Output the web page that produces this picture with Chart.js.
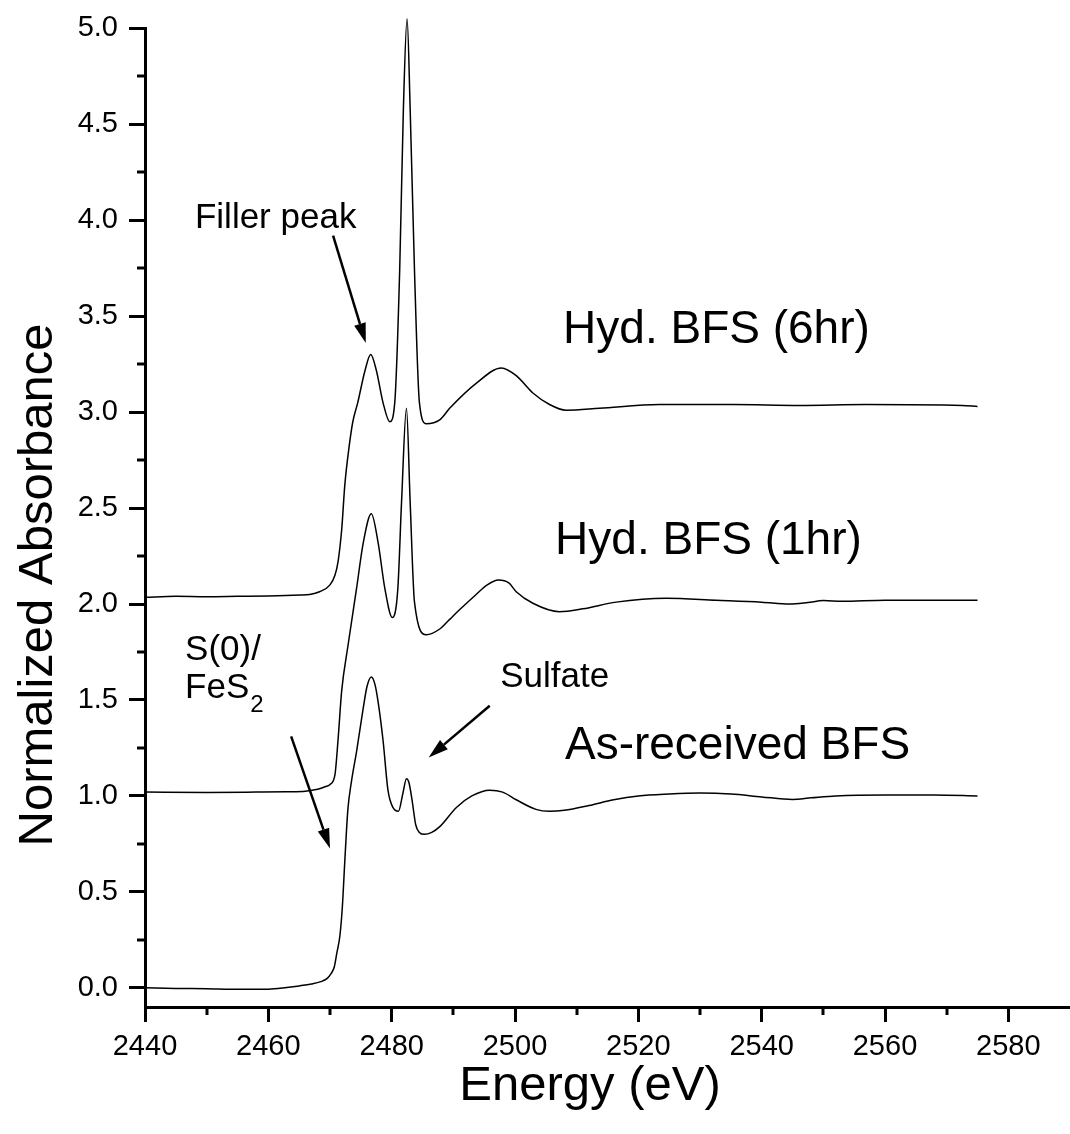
<!DOCTYPE html>
<html>
<head>
<meta charset="utf-8">
<script src="https://cdn.jsdelivr.net/npm/chart.js@4.4.0/dist/chart.umd.min.js"></script>
<style>
  html, body { margin: 0; padding: 0; background: #fff; }
  canvas { display: block; }
</style>
</head>
<body>
<canvas id="xanes" width="1070" height="1134"></canvas>
<script>
/* ------------------------------------------------------------
   Data (S K-edge XANES, normalized)
------------------------------------------------------------ */
const asReceivedEnergy = [2440, 2445, 2450, 2455, 2460, 2463, 2465, 2467, 2468.5, 2469.5, 2470.2, 2470.7, 2471.1, 2471.6, 2472.0, 2472.4, 2472.9, 2473.5, 2474.3, 2475.4, 2476.0, 2476.7, 2477.3, 2477.8, 2478.6, 2479.4, 2480.2, 2481.1, 2481.8, 2482.4, 2482.8, 2483.3, 2483.9, 2484.5, 2485.3, 2486.5, 2487.8, 2490.5, 2493, 2495.9, 2498, 2500.2, 2503.4, 2505.6, 2508, 2512, 2516, 2520, 2525, 2530, 2535, 2540, 2545, 2548, 2552, 2560, 2568, 2575];
const asReceivedAbs = [0.000, -0.003, -0.005, -0.008, -0.007, 0.002, 0.010, 0.020, 0.032, 0.048, 0.075, 0.11, 0.18, 0.27, 0.42, 0.66, 0.93, 1.08, 1.23, 1.46, 1.57, 1.62, 1.58, 1.49, 1.29, 1.03, 0.94, 0.92, 1.01, 1.09, 1.07, 0.98, 0.85, 0.81, 0.80, 0.81, 0.84, 0.94, 1.00, 1.03, 1.02, 0.98, 0.93, 0.92, 0.925, 0.95, 0.98, 1.00, 1.01, 1.015, 1.01, 0.995, 0.982, 0.99, 1.00, 1.005, 1.005, 1.00];

const hyd1Energy = [2440, 2450, 2458, 2463, 2466, 2468, 2469.2, 2470.0, 2470.8, 2471.3, 2471.9, 2472.9, 2474.3, 2475.4, 2476.7, 2477.8, 2478.9, 2480.1, 2481.0, 2481.6, 2482.4, 2483.0, 2483.7, 2485.6, 2487.8, 2489.4, 2491.0, 2493.7, 2495.5, 2497.3, 2499, 2500.2, 2502.9, 2507.2, 2511.0, 2516.4, 2524.5, 2532.6, 2540, 2544.5, 2547.5, 2550, 2553, 2560, 2572.5, 2575];
const hyd1Abs = [1.020, 1.018, 1.020, 1.022, 1.025, 1.035, 1.048, 1.06, 1.11, 1.29, 1.55, 1.78, 2.08, 2.32, 2.47, 2.32, 2.08, 1.93, 2.08, 2.53, 3.02, 2.53, 2.01, 1.84, 1.87, 1.92, 1.97, 2.05, 2.10, 2.125, 2.11, 2.064, 2.004, 1.96, 1.975, 2.01, 2.03, 2.02, 2.01, 2.00, 2.008, 2.018, 2.014, 2.02, 2.02, 2.02];

const hyd6Energy = [2440, 2445, 2450, 2455, 2460, 2465.1, 2466.7, 2468.3, 2470.0, 2470.8, 2471.3, 2471.9, 2472.4, 2473.1, 2473.7, 2474.5, 2475.7, 2476.6, 2477.5, 2478.6, 2479.7, 2480.5, 2481.3, 2481.9, 2482.5, 2483.0, 2483.7, 2484.5, 2485.6, 2487.8, 2489.4, 2493.7, 2497.8, 2500.2, 2502.9, 2505.6, 2508.3, 2513.7, 2523.4, 2535.3, 2546.1, 2556.9, 2572.5, 2575];
const hyd6Abs = [2.035, 2.040, 2.038, 2.040, 2.042, 2.047, 2.050, 2.064, 2.10, 2.15, 2.22, 2.39, 2.62, 2.82, 2.95, 3.05, 3.22, 3.30, 3.22, 3.05, 2.95, 3.05, 3.74, 4.58, 5.05, 4.58, 3.74, 3.05, 2.94, 2.96, 3.02, 3.15, 3.23, 3.19, 3.10, 3.04, 3.01, 3.02, 3.04, 3.04, 3.035, 3.04, 3.035, 3.03];

/* axis ticks */
const xMajorTicks = [2440, 2460, 2480, 2500, 2520, 2540, 2560, 2580];
const xMinorTicks = [2450, 2470, 2490, 2510, 2530, 2550, 2570];
const yMajorTicks = [0.0, 0.5, 1.0, 1.5, 2.0, 2.5, 3.0, 3.5, 4.0, 4.5, 5.0];
const yMinorTicks = [0.25, 0.75, 1.25, 1.75, 2.25, 2.75, 3.25, 3.75, 4.25, 4.75];

/* text labels and arrows (in data units) */
const curveLabels = [
    { text: "Hyd. BFS (6hr)", x: 2507.8, y: 3.36, size: 46 },
    { text: "Hyd. BFS (1hr)", x: 2506.5, y: 2.26, size: 46 },
    { text: "As-received BFS", x: 2508.1, y: 1.19, size: 46 },
    { text: "Filler peak", x: 2448.1, y: 3.96, size: 35 },
    { text: "Sulfate", x: 2497.6, y: 1.57, size: 35 },
    { text: "S(0)/", x: 2446.5, y: 1.71, size: 35 }
];
const arrows = [
    { from: [2470.5, 3.92], to: [2475.8, 3.36] },
    { from: [2495.9, 1.47], to: [2486.0, 1.20] },
    { from: [2463.7, 1.31], to: [2470.0, 0.726] }
];

const FONT = "'Liberation Sans', Arial, sans-serif";

function toPoints(xs, ys) {
    return xs.map((x, i) => ({ x: x, y: ys[i] }));
}

/* ------------------------------------------------------------
   Plugin : minor ticks, labels, arrows, axis titles
------------------------------------------------------------ */
const decorPlugin = {
    id: "decor",
    afterDatasetsDraw(chart) {
        const ctx = chart.ctx;
        const xs = chart.scales.x;
        const ys = chart.scales.y;
        const area = chart.chartArea;

        ctx.save();
        ctx.strokeStyle = "#000";
        ctx.fillStyle = "#000";

        // minor ticks
        ctx.lineWidth = 3;
        xMinorTicks.forEach(v => {
            const px = Math.round(xs.getPixelForValue(v));
            ctx.beginPath();
            ctx.moveTo(px, area.bottom);
            ctx.lineTo(px, area.bottom + 8);
            ctx.stroke();
        });
        yMinorTicks.forEach(v => {
            const py = Math.round(ys.getPixelForValue(v));
            ctx.beginPath();
            ctx.moveTo(area.left - 8, py);
            ctx.lineTo(area.left, py);
            ctx.stroke();
        });

        // labels
        ctx.textAlign = "left";
        ctx.textBaseline = "alphabetic";
        curveLabels.forEach(l => {
            ctx.font = l.size + "px " + FONT;
            ctx.fillText(l.text, xs.getPixelForValue(l.x), ys.getPixelForValue(l.y));
        });
        // FeS2 with subscript
        const fx = xs.getPixelForValue(2446.5);
        const fy = ys.getPixelForValue(1.51);
        ctx.font = "35px " + FONT;
        ctx.fillText("FeS", fx, fy);
        const w = ctx.measureText("FeS").width;
        ctx.font = "24px " + FONT;
        ctx.fillText("2", fx + w + 1, fy + 14);

        // arrows
        ctx.lineWidth = 2.5;
        arrows.forEach(a => {
            const x1 = xs.getPixelForValue(a.from[0]), y1 = ys.getPixelForValue(a.from[1]);
            const x2 = xs.getPixelForValue(a.to[0]), y2 = ys.getPixelForValue(a.to[1]);
            const ang = Math.atan2(y2 - y1, x2 - x1);
            const hl = 20, hw = 6;
            const bx = x2 - hl * Math.cos(ang), by = y2 - hl * Math.sin(ang);
            ctx.beginPath();
            ctx.moveTo(x1, y1);
            ctx.lineTo(bx, by);
            ctx.stroke();
            ctx.beginPath();
            ctx.moveTo(x2, y2);
            ctx.lineTo(bx + hw * Math.sin(ang), by - hw * Math.cos(ang));
            ctx.lineTo(bx - hw * Math.sin(ang), by + hw * Math.cos(ang));
            ctx.closePath();
            ctx.fill();
        });

        // axis titles
        ctx.font = "49px " + FONT;
        ctx.textAlign = "center";
        ctx.fillText("Energy (eV)", 590, 1100);
        ctx.translate(52, 585);
        ctx.rotate(-Math.PI / 2);
        ctx.fillText("Normalized Absorbance", 0, 0);

        ctx.restore();
    }
};

/* ------------------------------------------------------------
   Chart
------------------------------------------------------------ */
const lineStyle = {
    borderColor: "#000",
    borderWidth: 1.5,
    pointRadius: 0,
    fill: false,
    cubicInterpolationMode: "monotone",
    clip: false
};

const tickFont = { family: FONT, size: 29 };

new Chart(document.getElementById("xanes"), {
    type: "line",
    data: {
        datasets: [
            Object.assign({ label: "As-received BFS", data: toPoints(asReceivedEnergy, asReceivedAbs) }, lineStyle),
            Object.assign({ label: "Hyd. BFS (1hr)", data: toPoints(hyd1Energy, hyd1Abs) }, lineStyle),
            Object.assign({ label: "Hyd. BFS (6hr)", data: toPoints(hyd6Energy, hyd6Abs) }, lineStyle)
        ]
    },
    options: {
        responsive: false,
        animation: false,
        devicePixelRatio: 1,
        layout: { padding: { top: 24, left: 0, right: 0, bottom: 0 } },
        plugins: {
            legend: { display: false },
            tooltip: { enabled: false }
        },
        scales: {
            x: {
                type: "linear",
                min: 2440,
                max: 2590,
                afterBuildTicks: s => { s.ticks = xMajorTicks.map(v => ({ value: v })); },
                afterFit: s => { s.height = 127; },
                ticks: {
                    autoSkip: false,
                    maxRotation: 0,
                    padding: 8,
                    color: "#000",
                    font: tickFont,
                    callback: v => String(v)
                },
                grid: { drawOnChartArea: false, tickLength: 15, tickWidth: 3, tickColor: "#000" },
                border: { color: "#000", width: 3 }
            },
            y: {
                type: "linear",
                min: -0.1,
                max: 5.0,
                afterBuildTicks: s => { s.ticks = yMajorTicks.map(v => ({ value: v })); },
                afterFit: s => { s.width = 145; },
                ticks: {
                    autoSkip: false,
                    padding: 11,
                    color: "#000",
                    font: tickFont,
                    callback: v => Number(v).toFixed(1)
                },
                grid: { drawOnChartArea: false, tickLength: 16, tickWidth: 3, tickColor: "#000" },
                border: { color: "#000", width: 3 }
            }
        }
    },
    plugins: [decorPlugin]
});
</script>
</body>
</html>
